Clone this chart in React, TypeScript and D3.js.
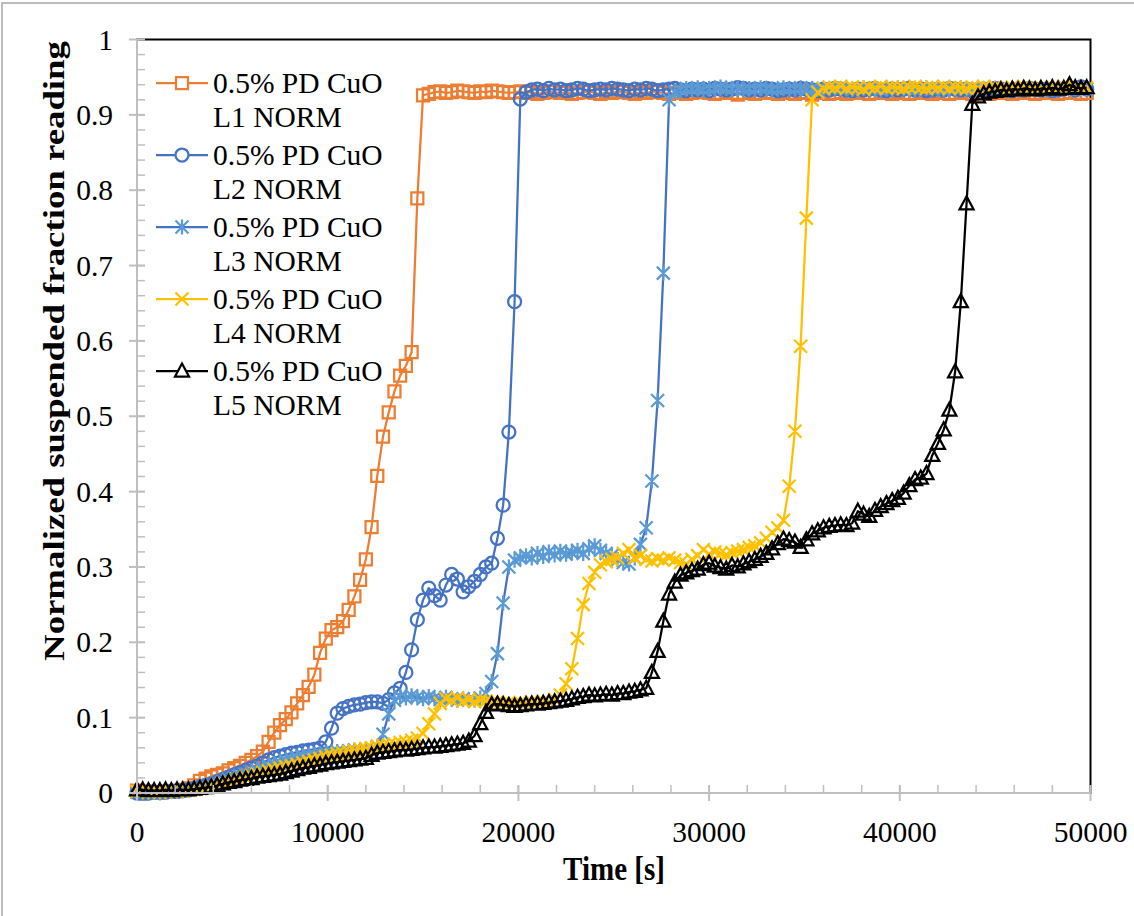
import React from 'react';
import * as d3 from 'd3';

// ---- data ----
const timeS = [
  0, 300, 600, 900, 1200, 1500, 1800, 2100, 2400, 2700,
  3000, 3300, 3600, 3900, 4200, 4500, 4800, 5100, 5400, 5700,
  6000, 6300, 6600, 6900, 7200, 7500, 7800, 8100, 8400, 8700,
  9000, 9300, 9600, 9900, 10200, 10500, 10800, 11100, 11400, 11700,
  12000, 12300, 12600, 12900, 13200, 13500, 13800, 14100, 14400, 14700,
  15000, 15300, 15600, 15900, 16200, 16500, 16800, 17100, 17400, 17700,
  18000, 18300, 18600, 18900, 19200, 19500, 19800, 20100, 20400, 20700,
  21000, 21300, 21600, 21900, 22200, 22500, 22800, 23100, 23400, 23700,
  24000, 24300, 24600, 24900, 25200, 25500, 25800, 26100, 26400, 26700,
  27000, 27300, 27600, 27900, 28200, 28500, 28800, 29100, 29400, 29700,
  30000, 30300, 30600, 30900, 31200, 31500, 31800, 32100, 32400, 32700,
  33000, 33300, 33600, 33900, 34200, 34500, 34800, 35100, 35400, 35700,
  36000, 36300, 36600, 36900, 37200, 37500, 37800, 38100, 38400, 38700,
  39000, 39300, 39600, 39900, 40200, 40500, 40800, 41100, 41400, 41700,
  42000, 42300, 42600, 42900, 43200, 43500, 43800, 44100, 44400, 44700,
  45000, 45300, 45600, 45900, 46200, 46500, 46800, 47100, 47400, 47700,
  48000, 48300, 48600, 48900, 49200, 49500, 49800,
];

const l1Norm = [
  0.003, 0.002, 0.002, 0.001, 0.001, 0.002, 0.002, 0.003, 0.004, 0.006, 0.010,
  0.016, 0.019, 0.022, 0.024, 0.026, 0.030, 0.033, 0.036, 0.040, 0.044,
  0.049, 0.055, 0.068, 0.080, 0.090, 0.098, 0.107, 0.119, 0.130, 0.141,
  0.157, 0.186, 0.205, 0.216, 0.220, 0.228, 0.243, 0.261, 0.283, 0.310,
  0.353, 0.421, 0.473, 0.505, 0.533, 0.554, 0.567, 0.585, 0.789, 0.926,
  0.928, 0.930, 0.931, 0.929, 0.930, 0.932, 0.931, 0.930, 0.929, 0.931,
  0.930, 0.932, 0.931, 0.930, 0.929, 0.930, 0.931, 0.929, 0.930, 0.928,
  0.929, 0.931, 0.930, 0.929, 0.930, 0.928, 0.929, 0.930, 0.931, 0.929,
  0.928, 0.930, 0.929, 0.931, 0.930, 0.929, 0.928, 0.930, 0.929, 0.931,
  0.930, 0.929, 0.928, 0.929, 0.930, 0.928, 0.929, 0.931, 0.930, 0.929,
  0.928, 0.929, 0.930, 0.929, 0.927, 0.929, 0.930, 0.928, 0.929, 0.930,
  0.929, 0.928, 0.930, 0.929, 0.928, 0.930, 0.929, 0.927, 0.929, 0.930,
  0.928, 0.929, 0.930, 0.928, 0.929, 0.930, 0.929, 0.928, 0.929, 0.930,
  0.929, 0.928, 0.930, 0.929, 0.928, 0.929, 0.930, 0.929, 0.928, 0.930,
  0.929, 0.928, 0.929, 0.930, 0.929, 0.928, 0.929, 0.930, 0.928, 0.929,
  0.930, 0.929, 0.928, 0.929, 0.930, 0.929, 0.928, 0.929, 0.930, 0.929,
  0.928, 0.929, 0.930, 0.929, 0.928, 0.929,
];

const l2Norm = [
  0.000, 0.000, 0.000, 0.001, 0.001, 0.001, 0.002, 0.002, 0.003, 0.004, 0.006,
  0.008, 0.010, 0.012, 0.015, 0.018, 0.021, 0.024, 0.027, 0.030, 0.033,
  0.036, 0.040, 0.044, 0.047, 0.049, 0.051, 0.053, 0.054, 0.056, 0.057,
  0.058, 0.060, 0.068, 0.086, 0.106, 0.112, 0.115, 0.117, 0.118, 0.120,
  0.121, 0.121, 0.119, 0.124, 0.133, 0.139, 0.160, 0.190, 0.230, 0.256,
  0.272, 0.262, 0.256, 0.276, 0.290, 0.284, 0.267, 0.274, 0.281, 0.290,
  0.300, 0.305, 0.338, 0.382, 0.479, 0.652, 0.921,
  0.930, 0.933, 0.934, 0.932, 0.935, 0.933, 0.934, 0.932, 0.933, 0.935,
  0.934, 0.932, 0.933, 0.934, 0.933, 0.935, 0.934, 0.933, 0.932, 0.934,
  0.933, 0.935, 0.934, 0.932, 0.933, 0.934, 0.935, 0.933, 0.932, 0.934,
  0.933, 0.934, 0.932, 0.935, 0.934, 0.933, 0.934, 0.936, 0.935, 0.933,
  0.934, 0.933, 0.935, 0.934, 0.932, 0.933, 0.934, 0.933, 0.935, 0.934,
  0.933, 0.932, 0.934, 0.933, 0.935, 0.934, 0.933, 0.932, 0.934, 0.933,
  0.934, 0.935, 0.933, 0.932, 0.934, 0.933, 0.934, 0.935, 0.933, 0.934,
  0.932, 0.933, 0.934, 0.933, 0.935, 0.934, 0.933, 0.934, 0.932, 0.933,
  0.934, 0.933, 0.935, 0.934, 0.933, 0.932, 0.934, 0.933, 0.935, 0.934,
  0.933, 0.934, 0.932, 0.933, 0.934, 0.935, 0.933, 0.937, 0.934,
];

const l3Norm = [
  0.001, 0.000, 0.000, 0.001, 0.000, 0.001, 0.002, 0.002, 0.003, 0.004, 0.005,
  0.007, 0.009, 0.011, 0.013, 0.015, 0.018, 0.020, 0.023, 0.025, 0.028,
  0.030, 0.033, 0.036, 0.038, 0.040, 0.043, 0.045, 0.047, 0.049, 0.050,
  0.051, 0.052, 0.053, 0.054, 0.055, 0.055, 0.056, 0.057, 0.057, 0.058,
  0.059, 0.062, 0.078, 0.105, 0.123, 0.128, 0.126, 0.129, 0.127, 0.125,
  0.128, 0.126, 0.124, 0.127, 0.125, 0.123, 0.125, 0.124, 0.123, 0.126,
  0.132, 0.148, 0.185, 0.252, 0.300, 0.309, 0.312, 0.315, 0.312, 0.318,
  0.314, 0.320, 0.316, 0.321, 0.317, 0.319, 0.322, 0.318, 0.324, 0.328,
  0.322, 0.318, 0.315, 0.310, 0.306, 0.304, 0.312, 0.330, 0.352, 0.414,
  0.521, 0.690, 0.920,
  0.930, 0.933, 0.935, 0.934, 0.936, 0.933, 0.935, 0.934, 0.937, 0.935,
  0.934, 0.936, 0.933, 0.935, 0.934, 0.936, 0.935, 0.933, 0.934, 0.936,
  0.935, 0.934, 0.936, 0.933, 0.935, 0.934, 0.933, 0.935, 0.936, 0.934,
  0.935, 0.933, 0.934, 0.936, 0.935, 0.934, 0.933, 0.935, 0.934, 0.936,
  0.935, 0.934, 0.933, 0.935, 0.936, 0.934, 0.935, 0.933, 0.934, 0.935,
  0.936, 0.934, 0.933, 0.935, 0.934, 0.936, 0.935, 0.934, 0.933, 0.935,
  0.934, 0.936, 0.935, 0.934, 0.933, 0.935, 0.934, 0.936, 0.935, 0.934,
  0.935, 0.936, 0.934,
];

const l4Norm = [
  0.002, 0.002, 0.001, 0.001, 0.001, 0.001, 0.002, 0.002, 0.003, 0.004, 0.005,
  0.006, 0.007, 0.009, 0.011, 0.013, 0.015, 0.017, 0.019, 0.021, 0.023,
  0.025, 0.027, 0.029, 0.031, 0.033, 0.035, 0.036, 0.038, 0.040, 0.042,
  0.044, 0.046, 0.048, 0.050, 0.052, 0.053, 0.055, 0.056, 0.058, 0.059,
  0.060, 0.062, 0.063, 0.064, 0.065, 0.067, 0.068, 0.070, 0.073, 0.079,
  0.092, 0.105, 0.119, 0.125, 0.123, 0.126, 0.122, 0.124, 0.121, 0.123,
  0.122, 0.120, 0.121, 0.119, 0.120, 0.118, 0.120, 0.119, 0.121, 0.120,
  0.122, 0.121, 0.124, 0.130, 0.145, 0.165, 0.205, 0.250, 0.278, 0.293,
  0.303, 0.307, 0.310, 0.312, 0.318, 0.323, 0.312, 0.315, 0.310, 0.308,
  0.311, 0.309, 0.312, 0.309, 0.306, 0.304, 0.310, 0.315, 0.323, 0.317,
  0.320, 0.318, 0.316, 0.319, 0.321, 0.323, 0.326, 0.328, 0.332, 0.338,
  0.346, 0.352, 0.362, 0.407, 0.480, 0.593, 0.763, 0.920,
  0.930, 0.935, 0.937, 0.936, 0.938, 0.935, 0.937, 0.936, 0.934, 0.937,
  0.936, 0.938, 0.935, 0.937, 0.936, 0.935, 0.937, 0.938, 0.936, 0.935,
  0.937, 0.936, 0.938, 0.935, 0.937, 0.936, 0.935, 0.937, 0.936, 0.938,
  0.935, 0.937, 0.936, 0.934, 0.937, 0.936, 0.938, 0.935, 0.937, 0.936,
  0.935, 0.937, 0.936, 0.938, 0.936, 0.935, 0.937, 0.936,
];

const l5Norm = [
  0.004, 0.004, 0.003, 0.003, 0.003, 0.004, 0.003, 0.004, 0.004, 0.004, 0.005,
  0.006, 0.007, 0.008, 0.010, 0.012, 0.014, 0.015, 0.017, 0.018, 0.019,
  0.021, 0.022, 0.023, 0.024, 0.025, 0.027, 0.029, 0.031, 0.033, 0.034,
  0.036, 0.037, 0.039, 0.040, 0.041, 0.042, 0.043, 0.044, 0.045, 0.046,
  0.050, 0.053, 0.054, 0.055, 0.056, 0.057, 0.057, 0.058, 0.059, 0.060,
  0.061, 0.061, 0.062, 0.063, 0.064, 0.065, 0.066, 0.069, 0.076, 0.092,
  0.107, 0.117, 0.118, 0.117, 0.116, 0.115, 0.116, 0.117, 0.118, 0.118,
  0.119, 0.120, 0.121, 0.122, 0.123, 0.125, 0.127, 0.128, 0.130, 0.129,
  0.130, 0.131, 0.130, 0.132, 0.132, 0.134, 0.135, 0.137, 0.139, 0.160,
  0.188, 0.228, 0.264, 0.280, 0.289, 0.292, 0.295, 0.297, 0.303, 0.305,
  0.301, 0.299, 0.297, 0.302, 0.300, 0.304, 0.307, 0.310, 0.314, 0.318,
  0.324, 0.331, 0.337, 0.335, 0.333, 0.326, 0.336, 0.344, 0.348, 0.352,
  0.354, 0.355, 0.356, 0.355, 0.358, 0.374, 0.370, 0.367, 0.375, 0.380,
  0.384, 0.388, 0.391, 0.398, 0.408, 0.416, 0.418, 0.424, 0.448, 0.464,
  0.482, 0.508, 0.559, 0.652, 0.782, 0.914,
  0.924, 0.928, 0.930, 0.931, 0.933, 0.932, 0.934, 0.933, 0.935, 0.934,
  0.933, 0.935, 0.934, 0.936, 0.934, 0.935, 0.940, 0.936, 0.935, 0.936,
];

const legendLine1 = ['0.5% PD CuO', '0.5% PD CuO', '0.5% PD CuO', '0.5% PD CuO', '0.5% PD CuO'];
const legendLine2 = ['L1 NORM', 'L2 NORM', 'L3 NORM', 'L4 NORM', 'L5 NORM'];

const yTickValues = [0, 0.1, 0.2, 0.3, 0.4, 0.5, 0.6, 0.7, 0.8, 0.9, 1];
const yTickLabels = ['0', '0.1', '0.2', '0.3', '0.4', '0.5', '0.6', '0.7', '0.8', '0.9', '1'];
const xTickValues = [0, 10000, 20000, 30000, 40000, 50000];
const xTickLabels = ['0', '10000', '20000', '30000', '40000', '50000'];

const xTitle = 'Time [s]';
const yTitle = 'Normalized suspended fraction reading';

// ---- style ----
const W = 1134;
const H = 916;
const FONT = '"Liberation Serif", "Times New Roman", serif';
const AXIS_GRAY = '#BFBFBF';

type Shape = 'square' | 'circle' | 'asterisk' | 'x' | 'triangle';

const series: { values: number[]; line: string; marker: string; shape: Shape }[] = [
  { values: l1Norm, line: '#ED7D31', marker: '#ED7D31', shape: 'square' },
  { values: l2Norm, line: '#4472C4', marker: '#4472C4', shape: 'circle' },
  { values: l3Norm, line: '#4472C4', marker: '#5B9BD5', shape: 'asterisk' },
  { values: l4Norm, line: '#FFC000', marker: '#FFC000', shape: 'x' },
  { values: l5Norm, line: '#000000', marker: '#000000', shape: 'triangle' },
];

function markerPath(shape: Shape, cx: number, cy: number): string {
  switch (shape) {
    case 'square': {
      const h = 6;
      return `M${cx - h},${cy - h}H${cx + h}V${cy + h}H${cx - h}Z`;
    }
    case 'circle': {
      const r = 6.5;
      return `M${cx - r},${cy}A${r},${r} 0 1,0 ${cx + r},${cy}A${r},${r} 0 1,0 ${cx - r},${cy}Z`;
    }
    case 'asterisk': {
      const h = 6.5;
      return `M${cx - h},${cy - h}L${cx + h},${cy + h}M${cx - h},${cy + h}L${cx + h},${cy - h}M${cx},${cy - h - 1}L${cx},${cy + h + 1}`;
    }
    case 'x': {
      const h = 6.5;
      return `M${cx - h},${cy - h}L${cx + h},${cy + h}M${cx - h},${cy + h}L${cx + h},${cy - h}`;
    }
    case 'triangle': {
      return `M${cx},${cy - 7.5}L${cx + 7},${cy + 5.5}L${cx - 7},${cy + 5.5}Z`;
    }
  }
  return '';
}

export default function App() {
  const x = d3.scaleLinear().domain([0, 50000]).range([137, 1090.5]);
  const y = d3.scaleLinear().domain([0, 1]).range([793, 39.5]);

  const lineGen = d3
    .line<[number, number]>()
    .x((d) => x(d[0]))
    .y((d) => y(d[1]));

  const yMinor = d3.range(0, 1.0001, 0.02);
  const xMinor = d3.range(0, 50001, 2000);

  const plotLeft = x(0);
  const plotRight = x(50000);
  const plotTop = y(1);
  const plotBottom = y(0);

  return (
    <svg
      width={W}
      height={H}
      style={{ position: 'absolute', left: 0, top: 0, display: 'block', background: '#fff' }}
      fontFamily={FONT}
    >
      <rect x={0} y={0} width={W} height={H} fill="#fff" />
      {/* outer chart border */}
      <rect x={2} y={3} width={W + 10} height={H + 10} fill="none" stroke="#A6A6A6" strokeWidth={1.5} />

      {/* plot area border */}
      <rect
        x={plotLeft}
        y={plotTop}
        width={plotRight - plotLeft}
        height={plotBottom - plotTop}
        fill="none"
        stroke="#000"
        strokeWidth={2}
      />

      {/* series */}
      {series.map((s, si) => {
        const pts: [number, number][] = timeS.map((t, i) => [t, s.values[i]]);
        return (
          <g key={si}>
            <path d={lineGen(pts) || ''} fill="none" stroke={s.line} strokeWidth={2.25} strokeLinejoin="round" />
            <path
              d={pts.map((p) => markerPath(s.shape, x(p[0]), y(p[1]))).join('')}
              fill="none"
              stroke={s.marker}
              strokeWidth={2.25}
            />
          </g>
        );
      })}

      {/* left axis */}
      <line x1={plotLeft} x2={plotLeft} y1={plotTop} y2={plotBottom} stroke={AXIS_GRAY} strokeWidth={2} />
      {yMinor.map((v, i) => (
        <line key={'ym' + i} x1={plotLeft} x2={plotLeft + 8} y1={y(v)} y2={y(v)} stroke={AXIS_GRAY} strokeWidth={1.5} />
      ))}
      {yTickValues.map((v, i) => (
        <line key={'yM' + i} x1={plotLeft - 8} x2={plotLeft + 8} y1={y(v)} y2={y(v)} stroke={AXIS_GRAY} strokeWidth={2} />
      ))}
      {yTickValues.map((v, i) => (
        <text key={'yl' + i} x={113} y={y(v) + 10} textAnchor="end" fontSize={29.5} fill="#000">
          {yTickLabels[i]}
        </text>
      ))}

      {/* bottom axis */}
      <line x1={plotLeft} x2={plotRight} y1={plotBottom} y2={plotBottom} stroke={AXIS_GRAY} strokeWidth={2} />
      {xMinor.map((v, i) => (
        <line key={'xm' + i} x1={x(v)} x2={x(v)} y1={plotBottom - 8} y2={plotBottom} stroke={AXIS_GRAY} strokeWidth={1.5} />
      ))}
      {xTickValues.map((v, i) => (
        <line key={'xM' + i} x1={x(v)} x2={x(v)} y1={plotBottom - 8} y2={plotBottom + 8} stroke={AXIS_GRAY} strokeWidth={2} />
      ))}
      {xTickValues.map((v, i) => (
        <text key={'xl' + i} x={x(v)} y={842} textAnchor="middle" fontSize={29.5} fill="#000">
          {xTickLabels[i]}
        </text>
      ))}

      {/* axis titles */}
      <g transform="translate(614, 880) scale(1, 1.15)">
        <text x={0} y={0} textAnchor="middle" fontSize={29} fontWeight="bold" fill="#000">
          {xTitle}
        </text>
      </g>
      <g transform="translate(64, 351) rotate(-90) scale(1.27, 1)">
        <text x={0} y={0} textAnchor="middle" fontSize={29} fontWeight="bold" fill="#000">
          {yTitle}
        </text>
      </g>

      {/* legend */}
      {series.map((s, i) => {
        const base = 93 + i * 72;
        const ly = base - 10;
        return (
          <g key={'lg' + i}>
            <line x1={156} x2={208} y1={ly} y2={ly} stroke={s.line} strokeWidth={2.25} />
            <path d={markerPath(s.shape, 182, ly)} fill="#fff" stroke={s.marker} strokeWidth={2.25} />
            <text x={213} y={base} fontSize={29.5} fill="#000">
              {legendLine1[i]}
            </text>
            <text x={213} y={base + 34} fontSize={29.5} fill="#000">
              {legendLine2[i]}
            </text>
          </g>
        );
      })}
    </svg>
  );
}
